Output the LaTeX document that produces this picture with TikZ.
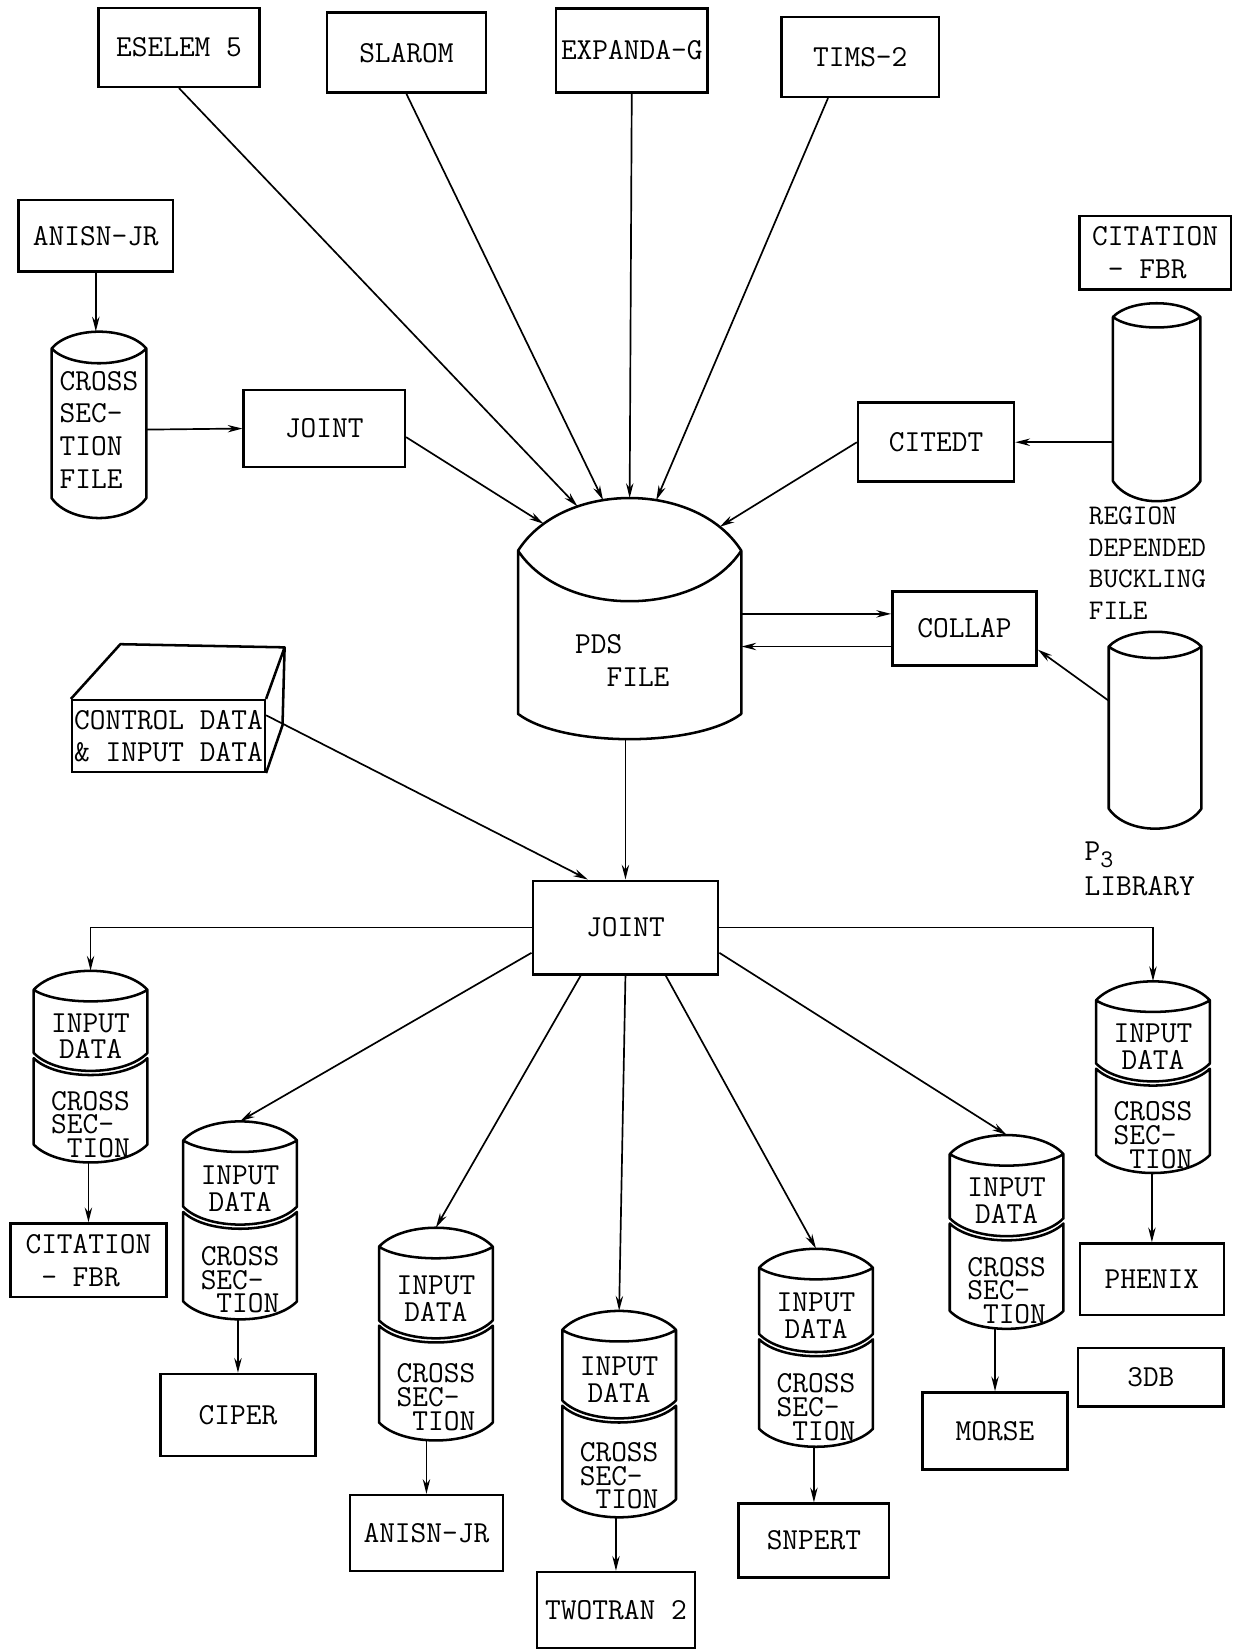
\documentclass[tikz,border=0pt]{standalone}
\usetikzlibrary{arrows.meta}

% disk file: left x, right x, corner y, lower side y, top rise, lens dip, bottom dip
\newcommand{\diskfile}[7]{%
  \draw[drum] (#1,#3)
    .. controls ({#1+(#2-#1)/5},{#3-4*#5/3}) and ({#2-(#2-#1)/5},{#3-4*#5/3}) .. (#2,#3)
    .. controls ({#2-(#2-#1)/5},{#3+4*#6/3}) and ({#1+(#2-#1)/5},{#3+4*#6/3}) .. (#1,#3)
    -- (#1,#4)
    .. controls ({#1+(#2-#1)/5},{#4+4*#7/3}) and ({#2-(#2-#1)/5},{#4+4*#7/3}) .. (#2,#4)
    -- (#2,#3);}

% input data / cross section pair: name, centre x, top y, stretch
\newcommand{\datastack}[4]{%
  \draw[drum] ({#2-54},{#3+18})
    .. controls ({#2-32},{#3-6}) and ({#2+32},{#3-6}) .. ({#2+54},{#3+18})
    .. controls ({#2+32},{#3+32.7}) and ({#2-32},{#3+32.7}) .. ({#2-54},{#3+18})
    -- ({#2-54},{#3+78+#4/2})
    .. controls ({#2-32},{#3+100.7+#4/2}) and ({#2+32},{#3+100.7+#4/2}) .. ({#2+54},{#3+78+#4/2})
    -- ({#2+54},{#3+18});
  \draw[drum] ({#2-54},{#3+83+#4/2})
    .. controls ({#2-32},{#3+104.3+#4/2}) and ({#2+32},{#3+104.3+#4/2}) .. ({#2+54},{#3+83+#4/2})
    -- ({#2+54},{#3+165+#4})
    .. controls ({#2+32},{#3+187.7+#4}) and ({#2-32},{#3+187.7+#4}) .. ({#2-54},{#3+165+#4})
    -- cycle;
  \node (#1) [ghost, minimum width=108pt, minimum height={(182+#4)*1pt}] at (#2,{#3+91+#4/2}) {};
  \node (#1-in) [stacktop] at (#2,{#3+62+#4/4}) {INPUT\\DATA};
  \node (#1-cs) [stackbot] at (#2,{#3+146+3*#4/4}) {CROSS\\SEC-\\\phantom{C}TION};
}

\begin{document}
\begin{tikzpicture}[x=1pt, y=-1pt, font=\ttfamily\fontsize{29}{31}\selectfont]
\tikzstyle{prog} = [rectangle, draw=black, line width=2.4pt, align=center, inner sep=0pt]
\tikzstyle{ghost} = [rectangle, inner sep=0pt]
\tikzstyle{drum} = [draw=black, line width=2.4pt, line join=round]
\tikzstyle{arrow} = [line width=1.6pt, -{Stealth[length=14pt, width=7pt]}]
\tikzstyle{stacktop} = [align=center, inner sep=0pt, font=\ttfamily\fontsize{29}{25.5}\selectfont]
\tikzstyle{stackbot} = [align=left, inner sep=0pt, font=\ttfamily\fontsize{29}{22.5}\selectfont]

\useasboundingbox (0,0) rectangle (1171,1568);

% codes feeding the PDS file
\node (eselem) [prog, minimum width=153pt, minimum height=75pt] at (170,45) {ESELEM 5};
\node (slarom) [prog, minimum width=151pt, minimum height=76pt] at (386,50) {SLAROM};
\node (expanda) [prog, minimum width=144pt, minimum height=80pt] at (600,48) {EXPANDA-G};
\node (tims) [prog, minimum width=150pt, minimum height=76pt] at (817,54) {TIMS-2};

\node (anisn1) [prog, minimum width=147pt, minimum height=68pt] at (91,224) {ANISN-JR};
\diskfile{49}{139}{331}{473}{16}{14}{19}
\node (xsfile) [ghost, align=left, minimum width=90pt, minimum height=186pt] at (94,408) {CROSS\\SEC-\\TION\\FILE};
\node (joint1) [prog, minimum width=153pt, minimum height=73pt] at (308,407) {JOINT};

\node (citfbr1) [prog, align=left, minimum width=144pt, minimum height=70pt] at (1097,240) {CITATION\\\phantom{C}- FBR};
\diskfile{1057}{1140}{301}{457}{13}{10}{19}
\node (bufile) [ghost, minimum width=83pt, minimum height=190pt] at (1098.5,383) {};
\node (bulabel) [anchor=west, align=left, inner sep=0pt, font=\ttfamily\fontsize{27}{30}\selectfont] at (1034,535) {REGION\\DEPENDED\\BUCKLING\\FILE};
\node (citedt) [prog, minimum width=148pt, minimum height=75pt] at (889,420) {CITEDT};

% PDS file
\draw[drum] (492,523) .. controls (534.4,456.3) and (661.6,456.3) ..
    coordinate[pos=0.15] (pds-j) coordinate[pos=0.3] (pds-e) coordinate[pos=0.4] (pds-s)
    coordinate[pos=0.5] (pds-x) coordinate[pos=0.6] (pds-t) coordinate[pos=0.87] (pds-c) (704,523)
  .. controls (661.6,587) and (534.4,587) .. (492,523)
  -- (492,678) .. controls (534.4,710) and (661.6,710) .. (704,678) -- (704,523);
\node (pds) [ghost, minimum width=212pt, minimum height=229pt] at (598,587.5) {};
\node (pdstext) [align=left, inner sep=0pt] at (591,627.5) {PDS\\\phantom{PD}FILE};

\node (collap) [prog, minimum width=137pt, minimum height=70pt] at (916,597) {COLLAP};
\diskfile{1053}{1141}{614}{768}{14}{11}{19}
\node (p3lib) [ghost, minimum width=88pt, minimum height=188pt] at (1097,693) {};
\node (p3text) [anchor=west, align=left, inner sep=0pt, font=\ttfamily\fontsize{29}{33}\selectfont] at (1030,825) {P\raisebox{-7pt}{\fontsize{24}{24}\selectfont 3}\\LIBRARY};

% control data card deck
\node (ctrl) [prog, align=left, minimum width=183pt, minimum height=68pt] at (160,699) {CONTROL DATA\\\& INPUT DATA};
\draw[drum] (ctrl.north west) -- ++(47,-52) -- ++(156,3) coordinate (ctrl-b) -- (ctrl.north east);
\draw[drum] (ctrl-b) -- ++(-2,74) -- (ctrl.south east);

\node (joint2) [prog, minimum width=176pt, minimum height=89pt] at (594,881) {JOINT};

% output side
\datastack{s1}{86}{922}{0}
\datastack{s2}{228}{1065}{6}
\datastack{s3}{414}{1166}{20}
\datastack{s4}{588}{1245}{14}
\datastack{s5}{775}{1186}{6}
\datastack{s6}{956}{1078}{2}
\datastack{s7}{1095}{932}{0}

\node (citfbr2) [prog, align=left, minimum width=148pt, minimum height=70pt] at (84,1197) {CITATION\\\phantom{C}- FBR};
\node (ciper) [prog, minimum width=147pt, minimum height=78pt] at (226,1344) {CIPER};
\node (anisn2) [prog, minimum width=145pt, minimum height=72pt] at (405,1456) {ANISN-JR};
\node (twotran) [prog, minimum width=150pt, minimum height=72pt] at (585,1529) {TWOTRAN 2};
\node (snpert) [prog, minimum width=143pt, minimum height=70pt] at (773,1463) {SNPERT};
\node (morse) [prog, minimum width=138pt, minimum height=73pt] at (945,1359) {MORSE};
\node (phenix) [prog, minimum width=137pt, minimum height=68pt] at (1094,1215) {PHENIX};
\node (db3) [prog, minimum width=138pt, minimum height=56pt] at (1093,1308) {3DB};

% connectors
\draw [arrow] (eselem.south) -- (pds-e);
\draw [arrow] (slarom.south) -- (pds-s);
\draw [arrow] (expanda.south) -- (pds-x);
\draw [arrow] (tims.232) -- (pds-t);
\draw [arrow] (anisn1.south) -- (anisn1.south |- xsfile.north);
\draw [arrow] (xsfile.east) -- (joint1.west);
\draw [arrow] (joint1.-6) -- (pds-j);
\draw [arrow] (bufile.west |- citedt.east) -- (citedt.east);
\draw [arrow] (citedt.west) -- (pds-c);
\coordinate (col-in) at ([yshift=14pt]collap.west);
\coordinate (col-out) at ([yshift=-17pt]collap.west);
\draw [arrow] (pds.east |- col-in) -- (col-in);
\draw [arrow] (col-out) -- (pds.east |- col-out);
\draw [arrow] (p3lib.148) -- (collap.-16);
\draw [arrow] (pds.south -| joint2.north) -- (joint2.north);
\draw [arrow] (ctrl.12) -- (joint2.128);

\draw [arrow] (joint2.west) -| (s1.north);
\draw [arrow] (joint2.195) -- (s2.north);
\draw [arrow] (joint2.227) -- (s3.north);
\draw [arrow] (joint2.south) -- (s4.north);
\draw [arrow] (joint2.310) -- (s5.north);
\draw [arrow] (joint2.345) -- (s6.north);
\draw [arrow] (joint2.east) -| (s7.north);

\draw [arrow] (s1.south -| citfbr2.north) -- (citfbr2.north);
\draw [arrow] (s2.south -| ciper.north) -- (ciper.north);
\draw [arrow] (s3.south -| anisn2.north) -- (anisn2.north);
\draw [arrow] (s4.south -| twotran.north) -- (twotran.north);
\draw [arrow] (s5.south -| snpert.north) -- (snpert.north);
\draw [arrow] (s6.south -| morse.north) -- (morse.north);
\draw [arrow] (s7.south -| phenix.north) -- (phenix.north);

\end{tikzpicture}
\end{document}
